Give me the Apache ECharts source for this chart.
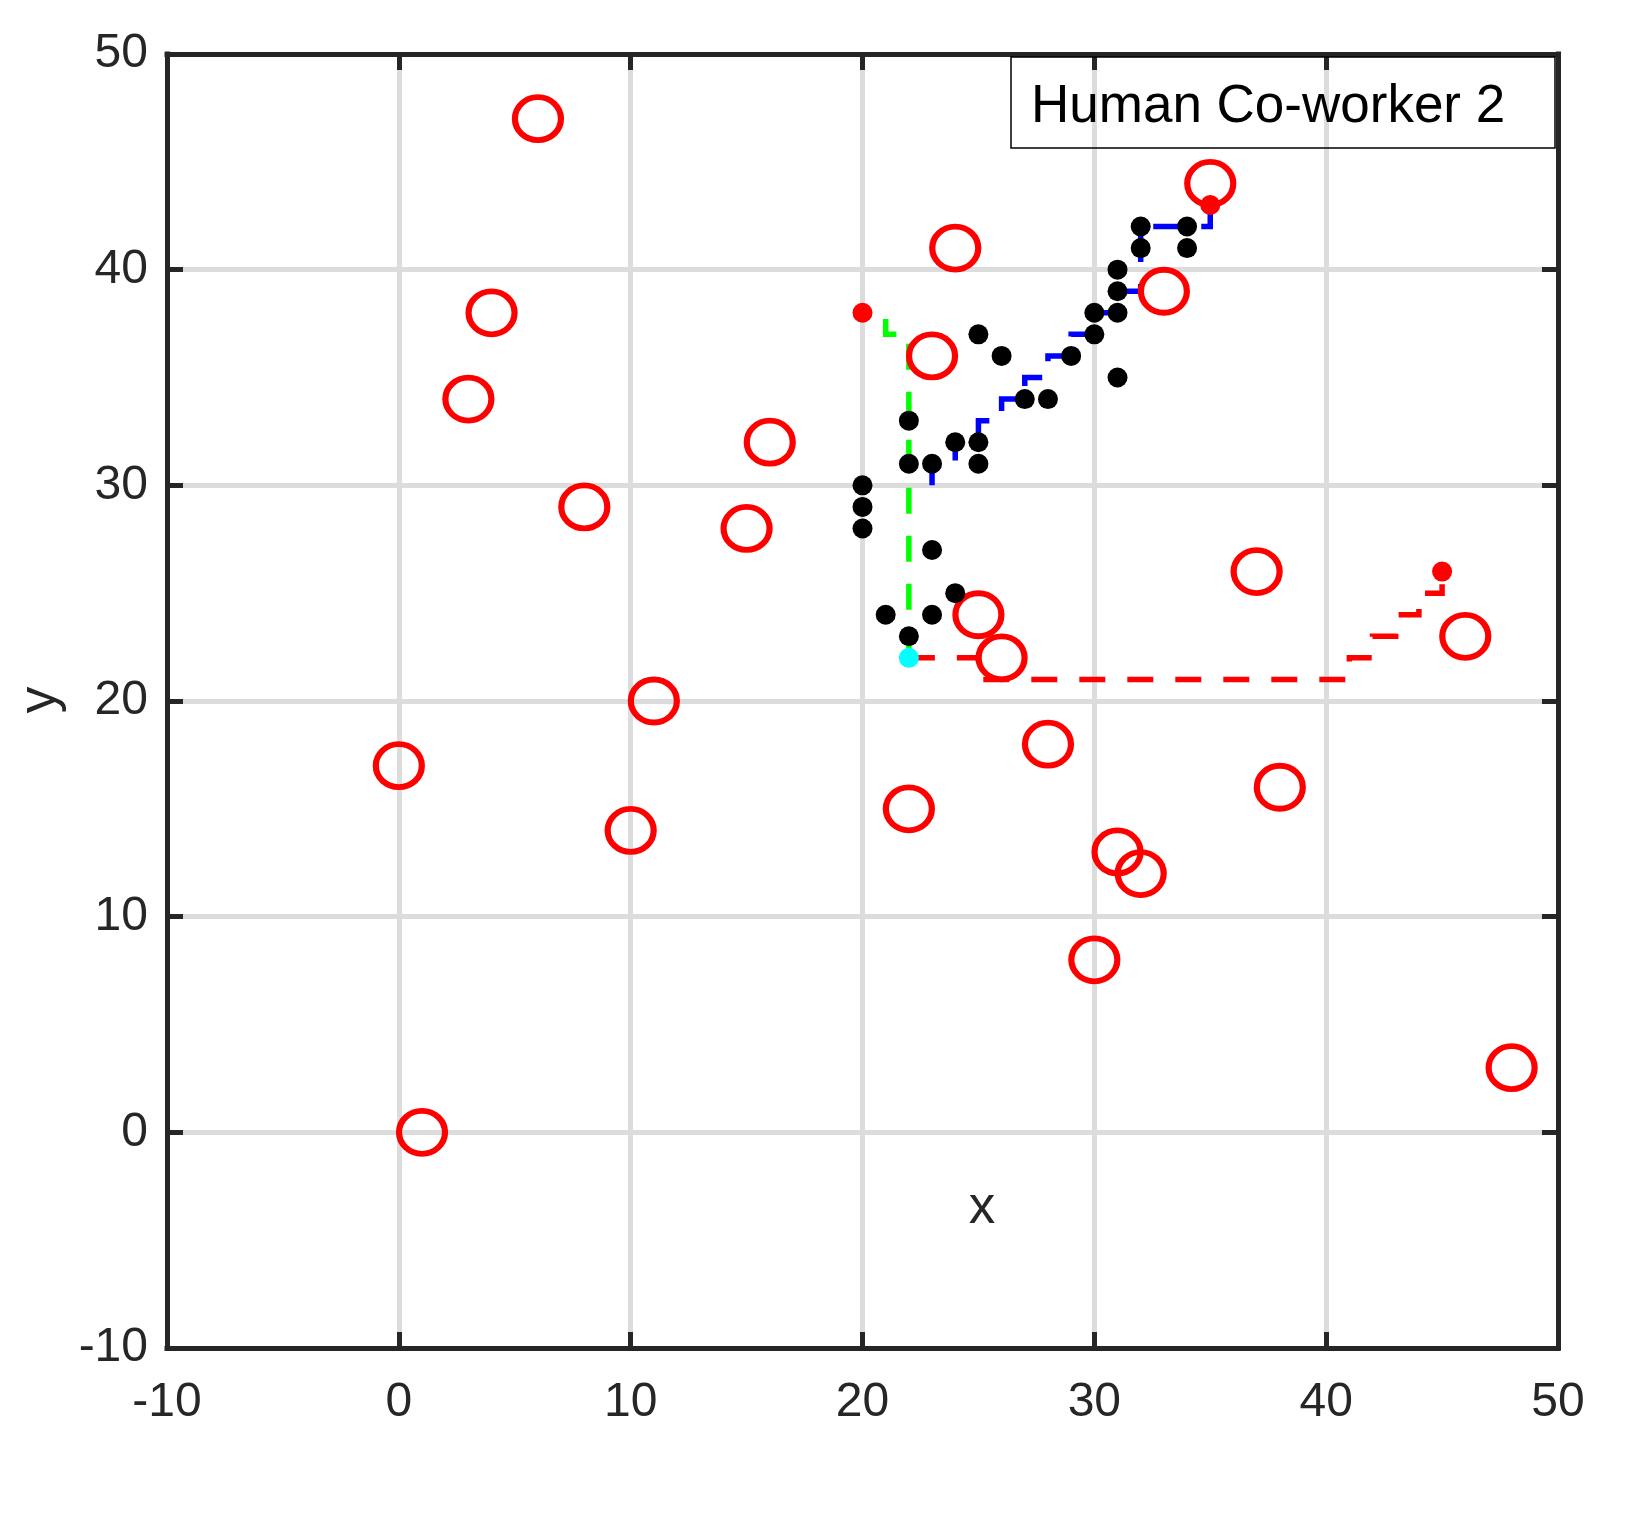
<!DOCTYPE html>
<html>
<head>
<meta charset="utf-8">
<title>Human Co-worker 2</title>
<script src="https://cdn.jsdelivr.net/npm/echarts@6/dist/echarts.min.js"></script>
<style>
  html, body { margin: 0; padding: 0; background: #fff; }
  #chart { width: 1638px; height: 1518px; }
</style>
</head>
<body>
<div id="chart"></div>
<script>
// tick values of both axes
const xTicks = [-10, 0, 10, 20, 30, 40, 50]
const yTicks = [-10, 0, 10, 20, 30, 40, 50]

// obstacles (red rings)
const obstacles = [
  [6, 47], [4, 38], [3, 34], [8, 29], [16, 32], [15, 28], [11, 20], [0, 17],
  [10, 14], [1, 0], [24, 41], [23, 36], [25, 24], [26, 22], [28, 18], [22, 15],
  [31, 13], [32, 12], [30, 8], [33, 39], [35, 44], [37, 26], [46, 23], [38, 16],
  [48, 3]
]

// visited cells (black dots)
const visited = [
  [20, 30], [20, 29], [20, 28], [22, 33], [22, 31], [23, 31], [24, 32], [25, 32],
  [25, 31], [25, 37], [26, 36], [27, 34], [28, 34], [29, 36], [30, 37], [30, 38],
  [31, 38], [31, 39], [31, 40], [31, 35], [32, 41], [32, 42], [34, 42], [34, 41],
  [23, 27], [24, 25], [21, 24], [23, 24], [22, 23]
]

// goals (red dots) and start (cyan dot)
const goals = [[20, 38], [35, 43], [45, 26]]
const start = [[22, 22]]

// path corners
const greenPath = [[22, 22], [22, 37], [21, 37], [21, 38], [20, 38]]
const bluePath = [
  [23, 30], [23, 31], [24, 31], [24, 32], [25, 32], [25, 33], [26, 33], [26, 34],
  [27, 34], [27, 35], [28, 35], [28, 36], [29, 36], [29, 37], [30, 37], [30, 38],
  [31, 38], [31, 39], [32, 39], [32, 42], [35, 42], [35, 43]
]
const redPath = [
  [22, 22], [25, 22], [25, 21], [41, 21], [41, 22], [42, 22], [42, 23], [43, 23],
  [43, 24], [44, 24], [44, 25], [45, 25], [45, 26]
]

const legendText = 'Human Co-worker 2'

const font = 'Liberation Sans'
const ink = '#262626'

const chart = echarts.init(document.getElementById('chart'))

function axis(ticks, extra) {
  return Object.assign({
    type: 'value',
    min: ticks[0],
    max: ticks[ticks.length - 1],
    interval: ticks[1] - ticks[0],
    axisLine: { show: true, onZero: false, lineStyle: { color: ink, width: 5, cap: 'square' } },
    axisTick: { show: true, inside: true, length: 16, lineStyle: { color: ink, width: 5 } },
    splitLine: { show: false },
    axisLabel: { show: false }
  }, extra)
}

const grid = {
  show: true,
  lineStyle: { color: '#dcdcdc', width: 5 },
  showMinLine: false,
  showMaxLine: false
}

function pathSeries(data, color) {
  return {
    type: 'line',
    data: data,
    symbol: 'none',
    silent: true,
    z: 2,
    lineStyle: { color: color, width: 5.5, type: [26, 22], cap: 'butt', join: 'miter' }
  }
}

function dots(data, color, z) {
  return {
    type: 'scatter',
    data: data,
    symbol: 'circle',
    symbolSize: 20,
    silent: true,
    z: z,
    itemStyle: { color: color, opacity: 1 }
  }
}

const option = {
  animation: false,
  backgroundColor: '#fff',
  grid: { left: 167, top: 54, right: 80, bottom: 170 },
  xAxis: [
    axis(xTicks, {
      position: 'bottom',
      splitLine: grid,
      axisLabel: { show: true, showMinLabel: true, showMaxLabel: true, margin: 31, fontSize: 48, color: ink, fontFamily: font }
    }),
    axis(xTicks, { position: 'top' })
  ],
  yAxis: [
    axis(yTicks, {
      position: 'left',
      splitLine: grid,
      axisLabel: { show: true, showMinLabel: true, showMaxLabel: true, margin: 19, padding: [6, 0, 0, 0], fontSize: 48, color: ink, fontFamily: font }
    }),
    axis(yTicks, { position: 'right' })
  ],
  series: [
    pathSeries(greenPath, '#00ff00'),
    pathSeries(bluePath, '#0000ff'),
    pathSeries(redPath, '#ff0000'),
    {
      type: 'scatter',
      data: obstacles,
      symbol: 'path://M0,50A50,50 0 1,1 100,50A50,50 0 1,1 0,50Z',
      symbolSize: [46, 43],
      silent: true,
      z: 3,
      itemStyle: { color: 'rgba(255,255,255,0)', borderColor: '#ff0000', borderWidth: 6, opacity: 1 }
    },
    dots(visited, '#000000', 4),
    dots(goals, '#ff0000', 5),
    dots(start, '#00ffff', 5)
  ],
  graphic: [
    {
      type: 'text',
      x: 982,
      y: 1208,
      style: { text: 'x', fontSize: 53, fontFamily: font, fill: ink, textAlign: 'center', textVerticalAlign: 'middle' }
    },
    {
      type: 'text',
      x: 40,
      y: 700,
      rotation: Math.PI / 2,
      style: { text: 'y', fontSize: 53, fontFamily: font, fill: ink, textAlign: 'center', textVerticalAlign: 'middle' }
    },
    {
      type: 'rect',
      z: 10,
      shape: { x: 1011, y: 57, width: 544, height: 91 },
      style: { fill: 'none', stroke: '#000', lineWidth: 1.5 }
    },
    {
      type: 'text',
      z: 10,
      x: 1031,
      y: 107,
      style: { text: legendText, fontSize: 53, fontFamily: font, fill: '#000', textAlign: 'left', textVerticalAlign: 'middle' }
    }
  ]
}

chart.setOption(option)
</script>
</body>
</html>
